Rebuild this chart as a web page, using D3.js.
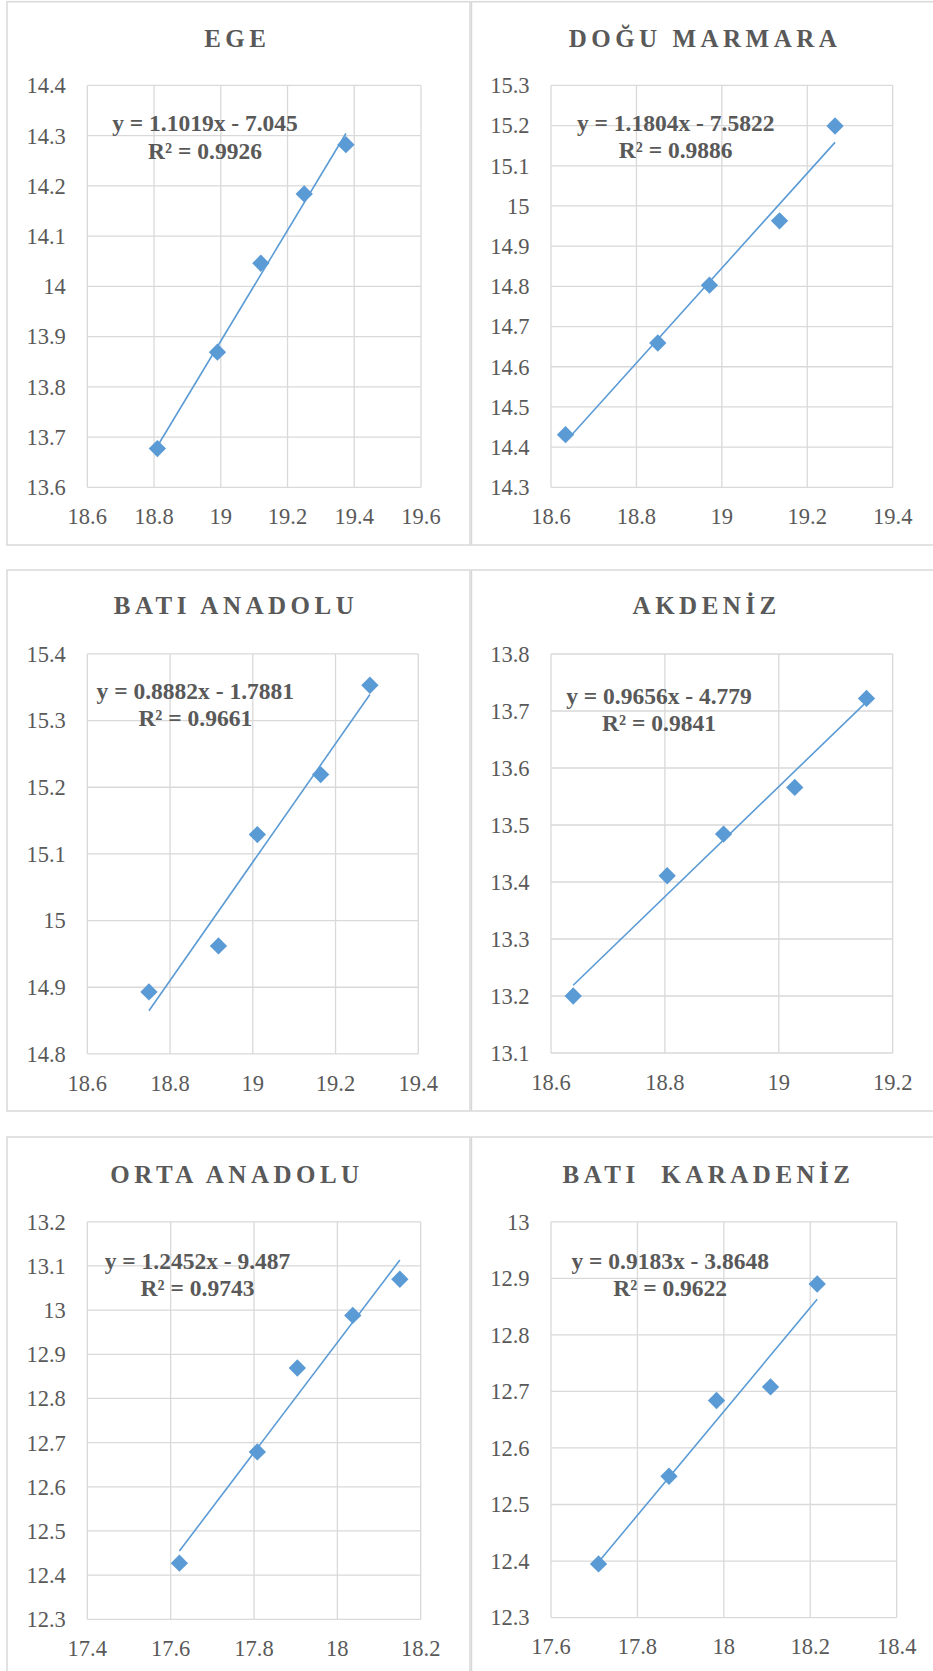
<!DOCTYPE html>
<html>
<head>
<meta charset="utf-8">
<script src="https://cdn.jsdelivr.net/npm/d3@7"></script>
<style>
  html, body { margin: 0; padding: 0; background: #ffffff; }
  svg { display: block; }
</style>
</head>
<body>
<div id="chart"></div>
<script>
// ---------- DATA ----------
const titles = ["EGE", "DOĞU MARMARA", "BATI ANADOLU", "AKDENİZ", "ORTA ANADOLU", "BATI  KARADENİZ"];

const egeX = [18.81, 18.99, 19.12, 19.25, 19.375];
const egeY = [13.677, 13.869, 14.046, 14.184, 14.282];
const doguMarmaraX = [18.634, 18.85, 18.971, 19.135, 19.265];
const doguMarmaraY = [14.431, 14.659, 14.803, 14.963, 15.199];
const batiAnadoluX = [18.749, 18.917, 19.011, 19.164, 19.283];
const batiAnadoluY = [14.893, 14.962, 15.129, 15.219, 15.353];
const akdenizX = [18.639, 18.804, 18.903, 19.028, 19.154];
const akdenizY = [13.2, 13.411, 13.484, 13.566, 13.722];
const ortaAnadoluX = [17.621, 17.808, 17.904, 18.037, 18.15];
const ortaAnadoluY = [12.427, 12.679, 12.869, 12.988, 13.07];
const batiKaradenizX = [17.71, 17.873, 17.983, 18.108, 18.216];
const batiKaradenizY = [12.395, 12.55, 12.684, 12.708, 12.89];

const slopes = [1.1019, 1.1804, 0.8882, 0.9656, 1.2452, 0.9183];
const intercepts = [-7.045, -7.5822, -1.7881, -4.779, -9.487, -3.8648];
const equations = ["y = 1.1019x - 7.045", "y = 1.1804x - 7.5822", "y = 0.8882x - 1.7881",
                   "y = 0.9656x - 4.779", "y = 1.2452x - 9.487", "y = 0.9183x - 3.8648"];
const rSquared = ["R² = 0.9926", "R² = 0.9886", "R² = 0.9661", "R² = 0.9841", "R² = 0.9743", "R² = 0.9622"];

const xTicks = [
  [18.6, 18.8, 19, 19.2, 19.4, 19.6],
  [18.6, 18.8, 19, 19.2, 19.4],
  [18.6, 18.8, 19, 19.2, 19.4],
  [18.6, 18.8, 19, 19.2],
  [17.4, 17.6, 17.8, 18, 18.2],
  [17.6, 17.8, 18, 18.2, 18.4]
];
const yTicks = [
  [13.6, 13.7, 13.8, 13.9, 14, 14.1, 14.2, 14.3, 14.4],
  [14.3, 14.4, 14.5, 14.6, 14.7, 14.8, 14.9, 15, 15.1, 15.2, 15.3],
  [14.8, 14.9, 15, 15.1, 15.2, 15.3, 15.4],
  [13.1, 13.2, 13.3, 13.4, 13.5, 13.6, 13.7, 13.8],
  [12.3, 12.4, 12.5, 12.6, 12.7, 12.8, 12.9, 13, 13.1, 13.2],
  [12.3, 12.4, 12.5, 12.6, 12.7, 12.8, 12.9, 13]
];

const seriesX = [egeX, doguMarmaraX, batiAnadoluX, akdenizX, ortaAnadoluX, batiKaradenizX];
const seriesY = [egeY, doguMarmaraY, batiAnadoluY, akdenizY, ortaAnadoluY, batiKaradenizY];

// ---------- LAYOUT (positions only) ----------
const layout = [
  {box: [7, 1.7, 470, 545],      plot: [87.3, 85.4, 421, 487.3],    title: [237.3, 37.9],  eq: [205, 123, 150.5]},
  {box: [471.5, 1.7, 940, 545],  plot: [551, 85.4, 892.7, 487.3],   title: [705, 37.9],    eq: [675.7, 122.5, 150]},
  {box: [7, 570, 470, 1111],     plot: [87.3, 653.9, 418.3, 1053.9],title: [236, 605.7],   eq: [195.3, 690.4, 717.5]},
  {box: [471.5, 570, 940, 1111], plot: [551, 654, 892.7, 1053],     title: [706.7, 605.7], eq: [659, 695.7, 722.5]},
  {box: [7, 1137, 470, 1700],    plot: [87.3, 1221.8, 420.7, 1619.3], title: [237, 1174.2], eq: [197.5, 1260.4, 1288]},
  {box: [471.5, 1137, 940, 1700],plot: [551, 1221.8, 896.7, 1617.6], title: [708.5, 1174.2], eq: [670.2, 1260.4, 1288]}
];

const W = 933, H = 1671;
const FONT = "Liberation Serif";
const TEXT = "#595959";
const GRID = "#d9d9d9";
const BLUE = "#5b9bd5";

const svg = d3.select("#chart").append("svg")
  .attr("width", W).attr("height", H)
  .attr("viewBox", `0 0 ${W} ${H}`);

const fmt = d => String(+d.toFixed(2));
const diamond = d3.symbol().type(d3.symbolSquare).size(150);

layout.forEach((L, i) => {
  const g = svg.append("g");
  const [bx0, by0, bx1, by1] = L.box;
  g.append("rect")
    .attr("x", bx0).attr("y", by0)
    .attr("width", bx1 - bx0).attr("height", by1 - by0)
    .attr("fill", "#ffffff")
    .attr("stroke", GRID).attr("stroke-width", 1.5);

  const [l, t, r, b] = L.plot;
  const xt = xTicks[i], yt = yTicks[i];
  const x = d3.scaleLinear().domain([xt[0], xt[xt.length - 1]]).range([l, r]);
  const y = d3.scaleLinear().domain([yt[0], yt[yt.length - 1]]).range([b, t]);

  // gridlines
  g.append("g").selectAll("line.v").data(xt).join("line")
    .attr("x1", d => x(d)).attr("x2", d => x(d))
    .attr("y1", t).attr("y2", b)
    .attr("stroke", GRID).attr("stroke-width", 1.3);
  g.append("g").selectAll("line.h").data(yt).join("line")
    .attr("x1", l).attr("x2", r)
    .attr("y1", d => y(d)).attr("y2", d => y(d))
    .attr("stroke", GRID).attr("stroke-width", 1.3);

  // y tick labels
  g.append("g").selectAll("text").data(yt).join("text")
    .attr("x", l - 21.5).attr("y", d => y(d))
    .attr("dy", "0.35em")
    .attr("text-anchor", "end")
    .style("font-family", FONT).attr("font-size", 22.5)
    .attr("fill", TEXT)
    .text(fmt);

  // x tick labels
  g.append("g").selectAll("text").data(xt).join("text")
    .attr("x", d => x(d)).attr("y", b + 29)
    .attr("dy", "0.35em")
    .attr("text-anchor", "middle")
    .style("font-family", FONT).attr("font-size", 22.5)
    .attr("fill", TEXT)
    .text(fmt);

  // title
  g.append("text")
    .attr("x", L.title[0]).attr("y", L.title[1])
    .attr("dy", "0.35em")
    .attr("text-anchor", "middle")
    .style("font-family", FONT).attr("font-size", 25)
    .attr("font-weight", "bold")
    .attr("letter-spacing", "4.5px")
    .style("white-space", "pre")
    .attr("fill", TEXT)
    .text(titles[i]);

  // trendline across data range
  const xs = seriesX[i], ys = seriesY[i];
  const xmin = d3.min(xs), xmax = d3.max(xs);
  const trend = [xmin, xmax].map(v => [v, slopes[i] * v + intercepts[i]]);
  g.append("path")
    .datum(trend)
    .attr("d", d3.line().x(d => x(d[0])).y(d => y(d[1])))
    .attr("fill", "none")
    .attr("stroke", BLUE).attr("stroke-width", 1.6);

  // markers
  g.append("g").selectAll("path").data(xs.map((v, k) => [v, ys[k]])).join("path")
    .attr("d", diamond)
    .attr("transform", d => `translate(${x(d[0])},${y(d[1])}) rotate(45)`)
    .attr("fill", BLUE);

  // equation text
  const eq = g.append("g")
    .style("font-family", FONT).attr("font-size", 23.5)
    .attr("font-weight", "bold").attr("fill", TEXT)
    .attr("text-anchor", "middle");
  eq.append("text").attr("x", L.eq[0]).attr("y", L.eq[1]).attr("dy", "0.35em").text(equations[i]);
  eq.append("text").attr("x", L.eq[0]).attr("y", L.eq[2]).attr("dy", "0.35em").text(rSquared[i]);
});
</script>
</body>
</html>
